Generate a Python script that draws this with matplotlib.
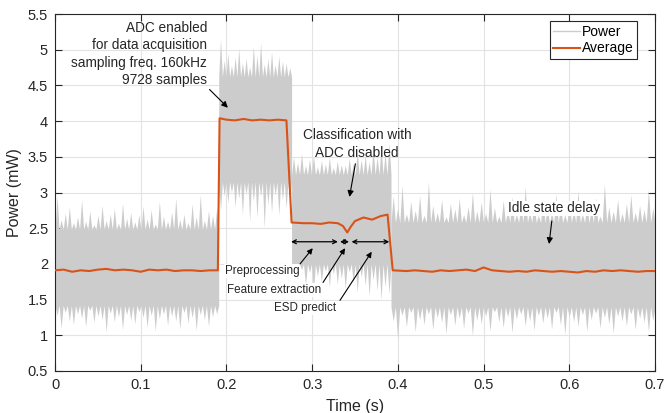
import numpy as np
import matplotlib.pyplot as plt

plt.rcParams['font.family'] = ['Liberation Sans', 'DejaVu Sans']

# raw power trace, read as segments: start, end, dense band low/high
seg_start = [0.000, 0.191, 0.276, 0.392]
seg_end = [0.191, 0.276, 0.392, 0.700]
band_lo = [1.42, 3.15, 2.00, 1.40]
band_hi = [2.48, 4.62, 3.25, 2.58]

# ragged peaks above / below the dense band, left to right in each segment
idle1_top = [2.95, 2.62, 2.71, 2.80, 2.58, 2.66, 2.90, 2.60, 2.74, 2.55, 2.68, 2.82, 2.61, 2.70,
             2.78, 2.57, 2.85, 2.64, 2.72, 2.59, 2.69, 2.81, 2.63, 2.76, 2.56, 2.88, 2.67, 2.60,
             2.73, 2.92, 2.62, 2.70, 2.58, 2.84, 2.66, 2.97, 2.61, 2.75, 2.68, 2.79]
idle1_bot = [1.28, 1.10, 1.32, 1.20, 1.15, 1.30, 1.24, 1.12, 1.35, 1.18, 1.27, 1.22, 1.05, 1.31,
             1.19, 1.26, 1.08, 1.29, 1.21, 1.16, 1.33, 1.25, 1.11, 1.28, 1.06, 1.23, 1.30, 1.14,
             1.27, 1.20, 1.09, 1.32, 1.17, 1.25, 1.07, 1.29, 1.22, 1.13, 1.26, 1.30]
adc_top = [5.15, 4.85, 4.95, 4.78, 4.90, 5.02, 4.82, 4.88, 4.76, 5.05,
           4.92, 5.10, 4.80, 4.87, 4.97, 4.79, 4.91, 4.84, 4.81, 4.75]
adc_bot = [2.75, 2.95, 2.85, 3.00, 2.80, 2.92, 2.70, 2.98, 2.60, 2.88,
           2.65, 2.95, 2.50, 2.83, 2.72, 2.97, 2.68, 2.90, 2.78, 2.85]
cls_top = [3.50, 3.42, 3.55, 3.38, 3.47, 3.52, 3.36, 3.45, 3.40, 3.49, 3.35, 3.44, 3.39,
           3.38, 3.48, 3.41, 3.58, 3.46, 3.52, 3.43, 3.62, 3.50, 3.66, 3.55, 3.70]
cls_bot = [1.85, 1.78, 1.92, 1.70, 1.88, 1.62, 1.83, 1.75, 1.90, 1.68, 1.86, 1.72, 1.80,
           1.65, 1.89, 1.74, 1.60, 1.82, 1.70, 1.55, 1.78, 1.63, 1.50, 1.68, 1.58]
idle2_top = [2.95, 2.78, 3.10, 2.70, 2.88, 2.75, 2.96, 2.68, 3.15, 2.82,
             2.72, 2.90, 2.66, 2.85, 2.77, 2.92, 2.69, 2.80, 3.00, 2.74,
             2.87, 2.71, 3.05, 2.79, 2.67, 2.89, 2.76, 2.94, 2.70, 2.83,
             3.08, 2.73, 2.86, 2.68, 2.91, 2.78, 2.72, 2.98, 2.81, 2.69,
             2.88, 2.75, 3.02, 2.70, 2.84, 2.77, 2.93, 2.67, 3.12, 2.80,
             2.74, 2.90, 2.71, 2.85, 2.97, 2.72, 2.82, 2.76, 3.04, 2.79]
idle2_bot = [1.20, 0.95, 1.28, 1.12, 1.32, 1.05, 1.22, 1.15, 1.30, 1.08,
             1.25, 1.18, 1.02, 1.29, 1.14, 1.24, 1.10, 1.31, 1.00, 1.21,
             1.16, 1.27, 1.06, 1.33, 1.19, 1.11, 1.26, 1.04, 1.23, 1.30,
             1.13, 1.20, 1.07, 1.28, 1.17, 1.24, 1.09, 1.32, 1.15, 1.01,
             1.26, 1.19, 1.12, 1.29, 1.06, 1.22, 1.31, 1.10, 1.25, 1.16,
             1.03, 1.27, 1.20, 1.13, 1.30, 1.08, 1.24, 1.18, 1.05, 1.21]
tops = [idle1_top, adc_top, cls_top, idle2_top]
bots = [idle1_bot, adc_bot, cls_bot, idle2_bot]

# moving average
avg_t = [0.000, 0.010, 0.020, 0.030, 0.040, 0.050, 0.060, 0.070, 0.080, 0.090,
         0.100, 0.110, 0.120, 0.130, 0.140, 0.150, 0.160, 0.170, 0.180, 0.190,
         0.192, 0.200, 0.210, 0.220, 0.230, 0.240, 0.250, 0.260, 0.270,
         0.276, 0.290, 0.300, 0.310, 0.320, 0.330, 0.336, 0.341, 0.345, 0.350, 0.360, 0.370, 0.380, 0.388,
         0.394, 0.410, 0.420, 0.430, 0.440, 0.450, 0.460, 0.470, 0.480, 0.490, 0.500,
         0.510, 0.520, 0.530, 0.540, 0.550, 0.560, 0.570, 0.580, 0.590, 0.600,
         0.610, 0.620, 0.630, 0.640, 0.650, 0.660, 0.670, 0.680, 0.690, 0.700]
avg_p = [1.91, 1.92, 1.89, 1.91, 1.90, 1.92, 1.93, 1.91, 1.92, 1.91,
         1.89, 1.92, 1.91, 1.92, 1.90, 1.91, 1.91, 1.90, 1.91, 1.91,
         4.04, 4.02, 4.01, 4.03, 4.01, 4.02, 4.01, 4.02, 4.01,
         2.58, 2.57, 2.57, 2.56, 2.58, 2.57, 2.53, 2.44, 2.52, 2.60, 2.65, 2.62, 2.67, 2.69,
         1.91, 1.90, 1.91, 1.90, 1.89, 1.91, 1.90, 1.91, 1.92, 1.90, 1.95,
         1.91, 1.90, 1.89, 1.90, 1.89, 1.91, 1.90, 1.89, 1.90, 1.89,
         1.88, 1.90, 1.89, 1.91, 1.90, 1.91, 1.90, 1.89, 1.90, 1.90]

gray = '#cccccc'
orange = '#D95319'

fig = plt.figure(figsize=(6.64, 4.13), dpi=100)
ax = fig.add_axes([55/664, 1 - 371/413, 600/664, 357/413])

for i in range(len(seg_start)):
    n = len(tops[i])
    x = np.linspace(seg_start[i], seg_end[i], 2 * n + 1)
    up = np.full(2 * n + 1, band_hi[i])
    up[1::2] = tops[i]
    lo = np.full(2 * n + 1, band_lo[i])
    lo[1::2] = bots[i]
    ax.fill_between(x, lo, up, color=gray, lw=0, zorder=2)
ax.plot([], [], color=gray, lw=1, label='Power')
ax.plot(avg_t, avg_p, color=orange, lw=1.5, zorder=3, label='Average')

ax.set_xlim(0, 0.7)
ax.set_ylim(0.5, 5.5)
ax.set_xticks(np.arange(0, 0.71, 0.1))
ax.set_xticklabels(['0', '0.1', '0.2', '0.3', '0.4', '0.5', '0.6', '0.7'])
ax.set_yticks(np.arange(0.5, 5.51, 0.5))
ax.set_yticklabels(['0.5', '1', '1.5', '2', '2.5', '3', '3.5', '4', '4.5', '5', '5.5'])
ax.grid(True, color='#e3e3e3', lw=0.8, zorder=0)
ax.set_axisbelow(True)
ax.tick_params(direction='in', top=True, right=True, length=5, width=0.8,
               labelsize=10.5, colors='#262626', pad=5)
for s in ax.spines.values():
    s.set_color('#262626')
    s.set_linewidth(0.8)
ax.set_xlabel('Time (s)', fontsize=11.5, color='#262626', labelpad=5)
ax.set_ylabel('Power (mW)', fontsize=11.5, color='#262626', labelpad=4)

leg = ax.legend(loc='upper right', bbox_to_anchor=(0.970, 0.980), fontsize=10,
                fancybox=False, framealpha=1, edgecolor='#262626', borderpad=0.25,
                handlelength=1.9, handletextpad=0.15, labelspacing=0.2, borderaxespad=0)
leg.get_frame().set_linewidth(0.8)

ax.text(0.1773, 5.40, 'ADC enabled\nfor data acquisition\nsampling freq. 160kHz\n9728 samples',
        ha='right', va='top', fontsize=9.8, linespacing=1.3, color='#262626', zorder=5)
ax.annotate('', xy=(0.204, 4.16), xytext=(0.178, 4.47),
            arrowprops=dict(arrowstyle='-|>', color='black', lw=0.8, mutation_scale=9), zorder=5)

ax.text(0.3524, 3.68, 'Classification with\nADC disabled', ha='center', va='center',
        fontsize=9.8, linespacing=1.3, color='#262626', zorder=5)
ax.annotate('', xy=(0.343, 2.90), xytext=(0.351, 3.44),
            arrowprops=dict(arrowstyle='-|>', color='black', lw=0.8, mutation_scale=9), zorder=5)

ax.text(0.5823, 2.78, 'Idle state delay', ha='center', va='center', fontsize=9.8, color='#262626',
        bbox=dict(facecolor='white', edgecolor='none', pad=0.5), zorder=5)
ax.annotate('', xy=(0.576, 2.24), xytext=(0.580, 2.64),
            arrowprops=dict(arrowstyle='-|>', color='black', lw=0.8, mutation_scale=9), zorder=5)

# phase spans
for a, b in [(0.2754, 0.330), (0.3326, 0.343), (0.346, 0.390)]:
    ax.annotate('', xy=(a, 2.31), xytext=(b, 2.31),
                arrowprops=dict(arrowstyle='<->', color='black', lw=0.9, mutation_scale=7,
                                shrinkA=0, shrinkB=0), zorder=5)

for txt, tx, ty, tail, head in [('Preprocessing', 0.2415, 1.90, (0.2859, 2.00), (0.3007, 2.22)),
                                ('Feature extraction', 0.2561, 1.635, (0.3127, 1.74), (0.3384, 2.22)),
                                ('ESD predict', 0.2922, 1.383, (0.3325, 1.49), (0.3695, 2.17))]:
    ax.text(tx, ty, txt, ha='center', va='center', fontsize=8.4, color='#262626',
            bbox=dict(facecolor='white', edgecolor='none', pad=0.5), zorder=5)
    ax.annotate('', xy=head, xytext=tail,
                arrowprops=dict(arrowstyle='-|>', color='black', lw=0.8, mutation_scale=8,
                                shrinkA=0, shrinkB=0), zorder=6)

fig.savefig('out.png', dpi=100)
